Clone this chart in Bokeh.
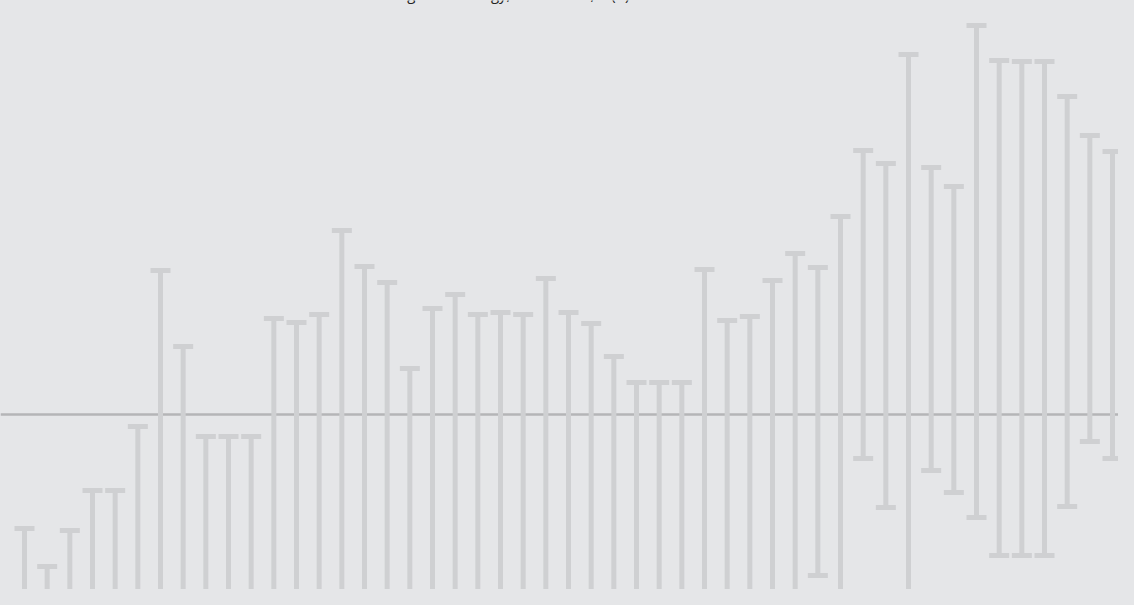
from bokeh.plotting import figure
from bokeh.models import Range1d, Span, Label, ColumnDataSource
from bokeh.embed import file_html
from bokeh.resources import INLINE

# ---- data ----
years = list(range(1970, 2019))
upper = [-0.285, -0.38, -0.29, -0.19, -0.19, -0.03, 0.36, 0.17, -0.055, -0.055,
         -0.055, 0.24, 0.23, 0.25, 0.46, 0.37, 0.33, 0.115, 0.265, 0.30,
         0.25, 0.255, 0.25, 0.34, 0.255, 0.2275, 0.145, 0.08, 0.08, 0.08,
         0.3625, 0.235, 0.245, 0.335, 0.4025, 0.3675, 0.495, 0.66, 0.6275, 0.90,
         0.6175, 0.57, 0.9725, 0.885, 0.8825, 0.8825, 0.795, 0.6975, 0.6575]
lower = [-0.85, -0.90, -0.88, -0.80, -0.82, -0.70, -0.62, -0.66, -0.72, -0.74,
         -0.71, -0.60, -0.58, -0.61, -0.55, -0.57, -0.60, -0.64, -0.59, -0.56,
         -0.58, -0.57, -0.60, -0.54, -0.59, -0.62, -0.65, -0.68, -0.66, -0.69,
         -0.52, -0.57, -0.56, -0.53, -0.50, -0.4025, -0.48, -0.11, -0.2325, -0.62,
         -0.14, -0.195, -0.2575, -0.3525, -0.3525, -0.3525, -0.23, -0.0675, -0.11]
title_text = "Annual mean global ecology, 1970\u20132018, ln(R) with 95% CI"

BG = "#e5e6e8"
BAR = "#cfd0d2"

src = ColumnDataSource(dict(x=years, upper=upper, lower=lower))

W, H = 1118, 589
p = figure(width=W, height=H, output_backend="svg", toolbar_location=None,
           x_range=Range1d(1968.941, 2018.264), y_range=Range1d(-0.4375, 1.035),
           min_border=0, background_fill_color=BG, border_fill_color=BG)
p.axis.visible = False
p.grid.visible = False
p.outline_line_color = None

p.add_layout(Span(location=0, dimension="width", line_color="#b4b5b7",
                  line_width=2.5, level="underlay"))

p.segment(x0="x", y0="lower", x1="x", y1="upper", source=src,
          line_color=BAR, line_width=5)
p.scatter(x="x", y="upper", source=src, marker="dash", size=20,
          line_color=BAR, line_width=5, fill_color=None)
p.scatter(x="x", y="lower", source=src, marker="dash", size=20,
          line_color=BAR, line_width=5, fill_color=None)

p.add_layout(Label(x=310, y=H + 6.5, x_units="screen", y_units="screen",
                   text=title_text, text_font="Open Sans", text_font_size="15px",
                   text_color="#222222", text_baseline="alphabetic",
                   text_align="left"))

html = file_html(p, INLINE)
html = html.replace("<head>", "<head><style>html,body{background:%s;}</style>" % BG, 1)
open("out.html", "w").write(html)
